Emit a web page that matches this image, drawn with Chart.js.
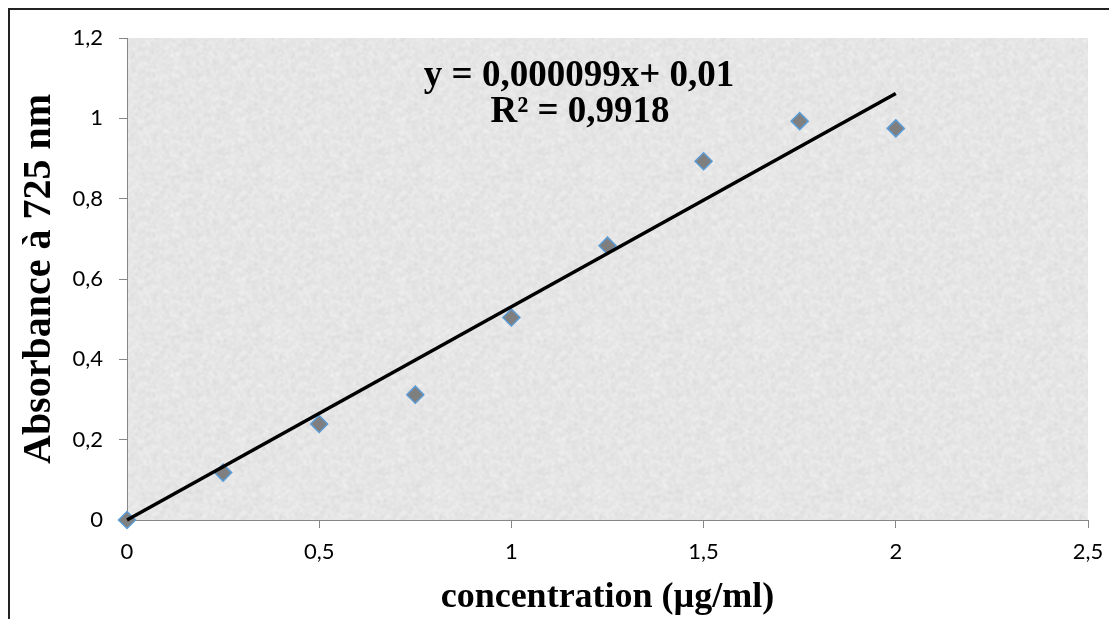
<!DOCTYPE html>
<html>
<head>
<meta charset="utf-8">
<script src="https://cdn.jsdelivr.net/npm/chart.js@4"></script>
<style>
  html, body { margin: 0; padding: 0; background: #fff; }
  #wrap { position: relative; width: 1109px; height: 619px; }
</style>
</head>
<body>
<div id="wrap"><canvas id="grafica" width="1109" height="619"></canvas></div>
<script>
// donnees
const concentrations = [0, 0.25, 0.5, 0.75, 1, 1.25, 1.5, 1.75, 2];
const absorbances = [0, 0.118, 0.239, 0.312, 0.504, 0.683, 0.893, 0.993, 0.975];
const trendX = [0, 2];
const trendY = [0, 1.062];
const xTickLabels = ["0", "0,5", "1", "1,5", "2", "2,5"];
const yTickLabels = ["0", "0,2", "0,4", "0,6", "0,8", "1", "1,2"];
const equation = ["y = 0,000099x+ 0,01", "R² = 0,9918"];

const serif = "'Liberation Serif', 'Times New Roman', serif";
const tickFont = { family: "Lato, 'Open Sans', sans-serif", size: 22 };
const axisGray = "#868686";

// texture grise du fond (bruit deterministe)
function texture() {
  const c = document.createElement("canvas");
  c.width = 160; c.height = 160;
  const g = c.getContext("2d");
  const img = g.createImageData(160, 160);
  let s = 12345;
  for (let i = 0; i < 160 * 160; i++) {
    s = (s * 1103515245 + 12345) & 0x7fffffff;
    const n = (s >> 8) % 44;
    const v = 208 + n;
    img.data[i * 4] = v;
    img.data[i * 4 + 1] = v;
    img.data[i * 4 + 2] = v;
    img.data[i * 4 + 3] = 255;
  }
  g.putImageData(img, 0, 0);
  const c2 = document.createElement("canvas");
  c2.width = 160; c2.height = 160;
  const g2 = c2.getContext("2d");
  g2.fillStyle = "#ebebeb";
  g2.fillRect(0, 0, 160, 160);
  g2.filter = "blur(0.8px)";
  g2.globalAlpha = 0.9;
  for (let dx = -160; dx <= 160; dx += 160)
    for (let dy = -160; dy <= 160; dy += 160) g2.drawImage(c, dx, dy);
  return c2;
}

const fond = {
  id: "fond",
  beforeDraw(chart) {
    const { ctx, chartArea: a } = chart;
    ctx.save();
    ctx.fillStyle = ctx.createPattern(texture(), "repeat");
    ctx.fillRect(a.left, a.top, a.right - a.left, a.bottom - a.top);
    ctx.restore();
  },
  afterDraw(chart) {
    const ctx = chart.ctx;
    ctx.save();
    // cadre
    ctx.strokeStyle = "#222";
    ctx.lineWidth = 2;
    ctx.beginPath();
    ctx.moveTo(9, 619);
    ctx.lineTo(9, 9);
    ctx.lineTo(1109, 9);
    ctx.stroke();
    // equation
    ctx.fillStyle = "#000";
    ctx.font = "bold 37px " + serif;
    ctx.textAlign = "center";
    ctx.textBaseline = "middle";
    ctx.fillText(equation[0], 579, 76);
    ctx.fillText(equation[1], 580, 112);
    ctx.restore();
  }
};

new Chart(document.getElementById("grafica"), {
  type: "scatter",
  data: {
    datasets: [
      {
        type: "line",
        label: "tendance",
        data: trendX.map((x, i) => ({ x: x, y: trendY[i] })),
        borderColor: "#000",
        borderWidth: 3.5,
        pointRadius: 0,
        fill: false,
        clip: false,
        order: 0
      },
      {
        label: "absorbance",
        data: concentrations.map((x, i) => ({ x: x, y: absorbances[i] })),
        pointStyle: "rectRot",
        pointRadius: 8.5,
        backgroundColor: "#7f7f7f",
        borderColor: "#5b9bd5",
        borderWidth: 1.5,
        clip: false,
        order: 1
      }
    ]
  },
  options: {
    responsive: false,
    animation: false,
    layout: { padding: { left: 0, top: 38, right: 21, bottom: 0 } },
    plugins: { legend: { display: false }, tooltip: { enabled: false } },
    scales: {
      x: {
        type: "linear",
        min: 0,
        max: 2.5,
        afterFit(scale) {
          scale.height = 99;
          scale.paddingRight = 0;
          scale.paddingLeft = 0;
        },
        ticks: {
          stepSize: 0.5,
          padding: 11,
          color: "#000",
          font: tickFont,
          callback: (v, i) => xTickLabels[i]
        },
        grid: { drawOnChartArea: false, drawTicks: true, tickLength: 8, color: axisGray },
        border: { color: axisGray, width: 1 },
        title: {
          display: true,
          text: "concentration (µg/ml)",
          color: "#000",
          font: { family: serif, size: 36, weight: "bold" },
          padding: { top: 0, bottom: 0 }
        }
      },
      y: {
        min: 0,
        max: 1.2,
        afterFit(scale) {
          scale.width = 127;
          scale.paddingTop = 0;
          scale.paddingBottom = 0;
        },
        ticks: {
          stepSize: 0.2,
          padding: 16,
          color: "#000",
          font: tickFont,
          callback: (v, i) => yTickLabels[i]
        },
        grid: { drawOnChartArea: false, drawTicks: true, tickLength: 8, color: axisGray },
        border: { color: axisGray, width: 1 },
        title: {
          display: true,
          text: "Absorbance à 725 nm",
          color: "#000",
          font: { family: serif, size: 40, weight: "bold" },
          padding: { top: 16, bottom: 0 }
        }
      }
    }
  },
  plugins: [fond]
});
</script>
</body>
</html>
